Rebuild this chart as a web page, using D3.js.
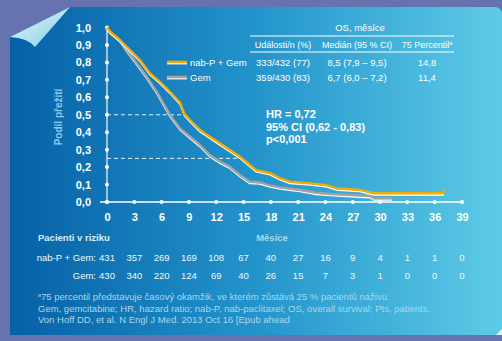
<!DOCTYPE html>
<html><head><meta charset="utf-8">
<script src="https://cdn.jsdelivr.net/npm/d3@7"></script>
<style>body{margin:0;background:#6673ae;overflow:hidden}svg{display:block}</style>
</head><body><script>
// ---- data ----
const xTicks = [0,3,6,9,12,15,18,21,24,27,30,33,36,39];
const yTicks = [0,0.1,0.2,0.3,0.4,0.5,0.6,0.7,0.8,0.9,1.0];
const nabpTime = [0,0.33,1.43,2.53,3.63,4.73,5.82,6.92,8.02,8.5,9.12,10.2,11.3,12.4,13.5,14.6,15.7,16.4,17.9,19.0,20.1,22.3,24.1,25.2,26.7,27.8,28.1,29.3,37.0];
const nabpSurv = [1.0,0.976,0.928,0.871,0.814,0.737,0.689,0.632,0.570,0.505,0.47,0.413,0.374,0.336,0.298,0.26,0.212,0.183,0.165,0.136,0.116,0.107,0.097,0.078,0.073,0.069,0.065,0.05,0.05];
const gemTime = [0,0.33,1.43,2.16,3.26,4.36,5.09,5.46,6.19,6.92,8.02,9.12,10.2,11.3,12.4,13.5,14.6,15.7,16.8,17.9,19.0,21.2,23.0,24.5,26.7,28.9,29.3,31.3];
const gemSurv = [1.0,0.976,0.928,0.871,0.795,0.718,0.661,0.632,0.566,0.499,0.422,0.374,0.327,0.269,0.231,0.202,0.155,0.116,0.112,0.095,0.084,0.069,0.053,0.046,0.04,0.034,0.021,0.021];
const seriesNames = ["nab-P + Gem","Gem"];
const seriesColors = ["#f5aa00","#a3a3a3"];
const medians = [8.5,6.7];
const p75 = [14.8,11.4];
const riskNabp = [431,357,269,169,108,67,40,27,16,9,4,1,1,0];
const riskGem = [430,340,220,124,69,40,26,15,7,3,1,0,0,0];
const tableHeaders = ["Události/n (%)","Medián (95 % CI)","75 Percentil"];
const tableRows = [["333/432 (77)","8,5 (7,9 – 9,5)","14,8"],["359/430 (83)","6,7 (6,0 – 7,2)","11,4"]];
const statLines = ["HR = 0,72","95% CI (0,62 - 0,83)","p<0,001"];
const footnotes = ["75 percentil představuje časový okamžik, ve kterém zůstává 25 % pacientů naživu.",
 "Gem, gemcitabine; HR, hazard ratio; nab-P, nab-paclitaxel; OS, overall survival; Pts, patients.",
 "Von Hoff DD, et al. N Engl J Med. 2013 Oct 16 [Epub ahead"];

// ---- drawing ----
const W=502,H=341;
const svg=d3.select("body").append("svg").attr("width",W).attr("height",H)
  .style("font-family","'Liberation Sans', Arial, sans-serif");
const defs=svg.append("defs");
const g1=defs.append("linearGradient").attr("id","pan").attr("x1",0).attr("x2",1).attr("y1",0).attr("y2",0);
g1.append("stop").attr("offset",0).attr("stop-color","#0660a6");
g1.append("stop").attr("offset",0.5).attr("stop-color","#2394cb");
g1.append("stop").attr("offset",1).attr("stop-color","#5ecbe7");
const g2=defs.append("linearGradient").attr("id","curl").attr("x1",0).attr("x2",1).attr("y1",0).attr("y2",1);
g2.append("stop").attr("offset",0).attr("stop-color","#e8f7fb");
g2.append("stop").attr("offset",1).attr("stop-color","#7fcfe6");

svg.append("rect").attr("width",W).attr("height",H).attr("fill","#6673ae");
svg.append("path").attr("d","M10,37 L70,7 L494,7 Q502,7 502,15 L502,335 L10,335 Z").attr("fill","url(#pan)");
svg.append("path").attr("d","M10,37 L70,7 Q50,30 35,47 Q28,38 10,37 Z").attr("fill","url(#curl)");
svg.append("path").attr("d","M496,335 L502,329 L502,335 Z").attr("fill","#e0f4fa");

const x=d3.scaleLinear().domain([0,39]).range([107,462]);
const y=d3.scaleLinear().domain([0,1]).range([202,27.5]);
const fmt=d=>d3.format(".1f")(d).replace(".",",");

// axes
const ya=svg.append("g").attr("transform","translate(107,0)")
  .call(d3.axisLeft(y).tickValues(yTicks).tickFormat(fmt).tickSize(0).tickPadding(16));
ya.select(".domain").remove();
ya.selectAll("text").attr("fill","#fff").attr("font-size",11).attr("font-weight","bold");
const xa=svg.append("g").attr("transform","translate(0,202)")
  .call(d3.axisBottom(x).tickValues(xTicks).tickSize(0).tickPadding(11));
xa.select(".domain").remove();
xa.selectAll("text").attr("fill","#fff").attr("font-size",11).attr("font-weight","bold");

svg.append("line").attr("x1",x(0)).attr("x2",x(0)).attr("y1",y(1)).attr("y2",y(0)).attr("stroke","#e8eef4").attr("stroke-width",1.3);
svg.append("line").attr("x1",100).attr("x2",x(39)).attr("y1",y(0)).attr("y2",y(0)).attr("stroke","#fff").attr("stroke-width",1.3);
svg.selectAll("circle.yd").data(yTicks).join("circle").attr("cx",x(0)).attr("cy",d=>y(d)).attr("r",2).attr("fill","#fff");
svg.selectAll("circle.xd").data(xTicks).join("circle").attr("cx",d=>x(d)).attr("cy",y(0)).attr("r",2).attr("fill","#fff");

svg.append("text").attr("transform",`translate(62,117) rotate(-90)`).attr("text-anchor","middle")
  .attr("fill","#8ccbec").attr("font-size",10).attr("font-weight","bold").text("Podíl přežití");

// dashed reference lines
svg.append("line").attr("x1",x(0)).attr("x2",x(medians[0])).attr("y1",y(0.5)).attr("y2",y(0.5))
  .attr("stroke","#e6f2f8").attr("stroke-dasharray","4,3").attr("stroke-width",1);
svg.append("line").attr("x1",x(0)).attr("x2",x(p75[0])).attr("y1",y(0.25)).attr("y2",y(0.25))
  .attr("stroke","#e6f2f8").attr("stroke-dasharray","4,3").attr("stroke-width",1);

// curves
const line=d3.line().x(d=>x(d[0])).y(d=>y(d[1]));
const series=[d3.zip(gemTime,gemSurv), d3.zip(nabpTime,nabpSurv)];
const cols=[seriesColors[1],seriesColors[0]];
series.forEach((s,i)=>{
  svg.append("path").datum(s).attr("d",line).attr("fill","none").attr("stroke","#fff").attr("stroke-width",1.6)
    .attr("transform","translate(0,1.6)");
  svg.append("path").datum(s).attr("d",line).attr("fill","none").attr("stroke",cols[i]).attr("stroke-width",2.4);
  const last=s[s.length-1];
  svg.append("line").attr("x1",x(last[0])).attr("x2",x(last[0])).attr("y1",y(last[1])).attr("y2",y(last[1])-5)
    .attr("stroke",cols[i]).attr("stroke-width",1.6);
});

// legend
seriesNames.forEach((n,i)=>{
  const ly=62+i*15;
  svg.append("line").attr("x1",167).attr("x2",187).attr("y1",ly+1.6).attr("y2",ly+1.6).attr("stroke","#fff").attr("stroke-width",1.6);
  svg.append("line").attr("x1",167).attr("x2",187).attr("y1",ly).attr("y2",ly).attr("stroke",seriesColors[i]).attr("stroke-width",2.6);
  svg.append("text").attr("x",190).attr("y",ly+3.5).attr("fill","#fff").attr("font-size",9.5).text(n);
});

// table
const colX=[283,357,427];
svg.append("text").attr("x",360).attr("y",31).attr("text-anchor","middle").attr("fill","#fff").attr("font-size",9.5).text("OS, měsíce");
svg.append("line").attr("x1",250).attr("x2",454).attr("y1",36).attr("y2",36).attr("stroke","#fff").attr("stroke-width",1);
tableHeaders.forEach((h,i)=>{
  const t=svg.append("text").attr("x",colX[i]).attr("y",47.5).attr("text-anchor","middle").attr("fill","#fff").attr("font-size",9).text(h);
  if(i===2) t.append("tspan").attr("font-size",5.5).attr("dy",-3).text("a");
});
svg.append("line").attr("x1",250).attr("x2",454).attr("y1",52).attr("y2",52).attr("stroke","#fff").attr("stroke-width",1);
tableRows.forEach((r,j)=>r.forEach((c,i)=>{
  svg.append("text").attr("x",colX[i]).attr("y",65.5+j*15).attr("text-anchor","middle").attr("fill","#fff").attr("font-size",9.5).text(c);
}));

// stats
statLines.forEach((s,i)=>{
  svg.append("text").attr("x",266).attr("y",118+i*12.5).attr("fill","#fff").attr("font-size",11).attr("font-weight","bold").text(s);
});

// risk table
svg.append("text").attr("x",38).attr("y",241).attr("fill","#d8eef8").attr("font-size",9.5).attr("font-weight","bold").text("Pacienti v riziku");
svg.append("text").attr("x",272).attr("y",241).attr("text-anchor","middle").attr("fill","#a8dbf0").attr("font-size",9.5).attr("font-weight","bold").text("Měsíce");
[["nab-P + Gem:",riskNabp],["Gem:",riskGem]].forEach(([lab,vals],j)=>{
  const ry=260.5+j*18;
  svg.append("text").attr("x",96).attr("y",ry).attr("text-anchor","end").attr("fill","#f0f8fc").attr("font-size",9.5).text(lab);
  svg.selectAll(null).data(vals).join("text").attr("x",(d,i)=>x(xTicks[i])).attr("y",ry).attr("text-anchor","middle")
    .attr("fill","#f0f8fc").attr("font-size",9.5).text(d=>d);
});

// footnotes
footnotes.forEach((f,i)=>{
  const t=svg.append("text").attr("x",38).attr("y",300+i*11.5).attr("fill","#a9d7ec").attr("font-size",9.5);
  if(i===0){ t.append("tspan").attr("font-size",5.5).attr("dy",-3).text("a"); t.append("tspan").attr("dy",3).text(f); }
  else t.text(f);
});
</script></body></html>
